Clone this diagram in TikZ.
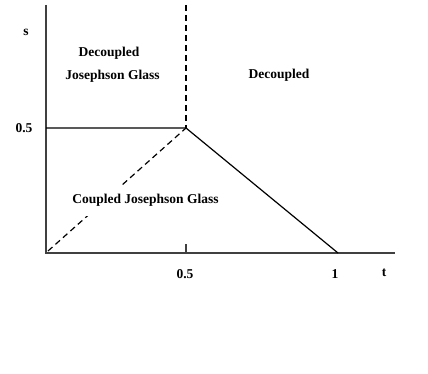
\documentclass[tikz,border=0pt]{standalone}
\usepackage{fontspec}
\setmainfont{Liberation Serif}
\begin{document}
\begin{tikzpicture}[x=1pt,y=-1pt,
  lbl/.style={font=\bfseries\fontsize{13.5}{15}\selectfont, inner sep=0pt},
  axis/.style={draw=black!75, line width=1.2pt},
  bnd/.style={draw=black, line width=1.2pt},
  dbnd/.style={draw=black, line width=1.2pt, dash pattern=on 6pt off 4pt}]
\useasboundingbox (0,0) rectangle (428,374);
\coordinate (origin) at (46,253);
\coordinate (ytop) at (46,5);
\coordinate (xend) at (395,253);
\coordinate (shalf) at (46,128);
\coordinate (vertex) at (186,128);
\coordinate (vtop) at (186,5);
\coordinate (tone) at (338,253);
\coordinate (dstart) at (48,251);
\coordinate (tickb) at (186,253);
\coordinate (ticka) at (186,244);
\draw[axis] (ytop) -- (origin) -- (xend);
\draw[axis] (tickb) -- (ticka);
\draw[bnd] (shalf) -- (vertex) -- (tone);
\draw[dbnd] (vtop) -- (vertex);
\draw[dbnd] (dstart) -- (vertex);
\node[lbl] (sl) at (26,32) {s};
\node[lbl] (sh) at (24,128) {0.5};
\node[lbl] (d1) at (109,53) {Decoupled};
\node[lbl] (jg) at (112.5,76) {Josephson Glass};
\node[lbl] (d2) at (279,75) {Decoupled};
\node[lbl, fill=white, inner xsep=2pt, inner ysep=9pt] (cjg) at (145.5,200.5) {Coupled Josephson Glass};
\node[lbl] (th) at (185,274) {0.5};
\node[lbl] (t1) at (335,274) {1};
\node[lbl] (tl) at (384,273) {t};
\end{tikzpicture}
\end{document}
